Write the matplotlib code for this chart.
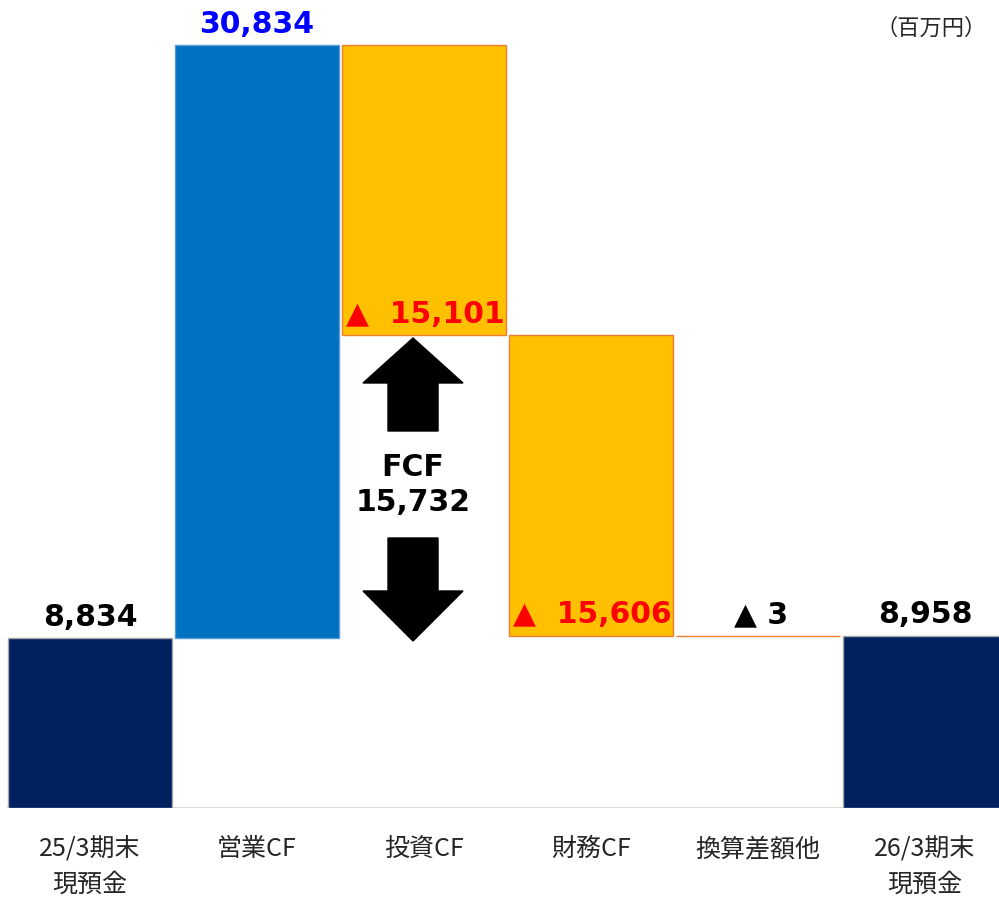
import matplotlib.pyplot as plt
from matplotlib.patches import Polygon
import numpy as np

plt.rcParams["font.family"] = ["Noto Sans CJK JP", "DejaVu Sans"]

# data
categories = ["25/3期末\n現預金", "営業CF", "投資CF", "財務CF", "換算差額他", "26/3期末\n現預金"]
start_cash = 8834
flows = [30834, -15101, -15606, -3]
end_cash = 8958
value_labels = ["8,834", "30,834", "▲  15,101", "▲  15,606", "▲ 3", "8,958"]
fcf_label = "FCF\n15,732"

NAVY = "#002060"
BLUE = "#0070C0"
YELLOW = "#FFC000"
ORANGE = "#ED7D31"
RED = "#FF0000"

# waterfall geometry
cum = start_cash + np.cumsum(flows)
prev = np.concatenate([[start_cash], cum[:-1]])
bottoms = [0] + list(np.minimum(prev, cum)) + [0]
heights = [start_cash] + [abs(f) for f in flows] + [end_cash]
fcolors = [NAVY, BLUE, YELLOW, YELLOW, YELLOW, NAVY]
ecolors = ["#A6A6A6", "#5B9BD5", ORANGE, ORANGE, ORANGE, "#A6A6A6"]

fig = plt.figure(figsize=(9.99, 8.99), dpi=100)
ax = fig.add_axes([0, 91 / 899, 1, 808 / 899])
top = max(cum) * 808 / 763
ax.set_ylim(0, top)
ax.set_xlim(-0.539, 5.443)
ax.axis("off")

x = np.arange(len(categories))
ax.bar(x, heights, bottom=bottoms, width=0.982, color=fcolors,
       edgecolor=ecolors, linewidth=1.0, zorder=2)
ax.plot([-0.491, 5.5], [0, 0], color="#D9D9D9", lw=1.5, zorder=1)

lbl = dict(fontsize=21.5, fontweight="bold", family=["DejaVu Sans", "Noto Sans CJK JP"])
pad = top * 0.008
# totals and positive flow above bars
ax.text(0, start_cash + pad, value_labels[0], ha="center", va="bottom", color="black", **lbl)
ax.text(1, cum[0] + pad, value_labels[1], ha="center", va="bottom", color="#0000FF", **lbl)
ax.text(5, end_cash + pad, value_labels[5], ha="center", va="bottom", color="black", **lbl)
# negative flows inside bar bottoms
ax.text(2.48, cum[1] + pad, value_labels[2], ha="right", va="bottom", color=RED, **lbl)
ax.text(3.48, cum[2] + pad, value_labels[3], ha="right", va="bottom", color=RED, **lbl)
ax.text(4.02, cum[3] + pad, value_labels[4], ha="center", va="bottom", color="black", **lbl)

# FCF arrows
def px2y(py):
    return (808 - py) * top / 808

cx = (413 - 90) / 167
hw, sw = 50 / 167, 25 / 167
up = [(cx, px2y(338)), (cx + hw, px2y(383)), (cx + sw, px2y(383)), (cx + sw, px2y(431)),
      (cx - sw, px2y(431)), (cx - sw, px2y(383)), (cx - hw, px2y(383))]
down = [(cx, px2y(641)), (cx + hw, px2y(591)), (cx + sw, px2y(591)), (cx + sw, px2y(538)),
        (cx - sw, px2y(538)), (cx - sw, px2y(591)), (cx - hw, px2y(591))]
ax.add_patch(Polygon(up, closed=True, color="black", zorder=3))
ax.add_patch(Polygon(down, closed=True, color="black", zorder=3))
ax.text(cx, px2y(485), fcf_label, ha="center", va="center", linespacing=1.3,
        color="black", **lbl)

# category labels
for i, c in enumerate(categories):
    ax.text(i, -top * 0.035, c, ha="center", va="top", fontsize=18,
            color="#262626", linespacing=1.45)

fig.text(0.988, 0.968, "（百万円）", ha="right", va="center", fontsize=16, color="#262626")

fig.savefig("out.png", dpi=100)
